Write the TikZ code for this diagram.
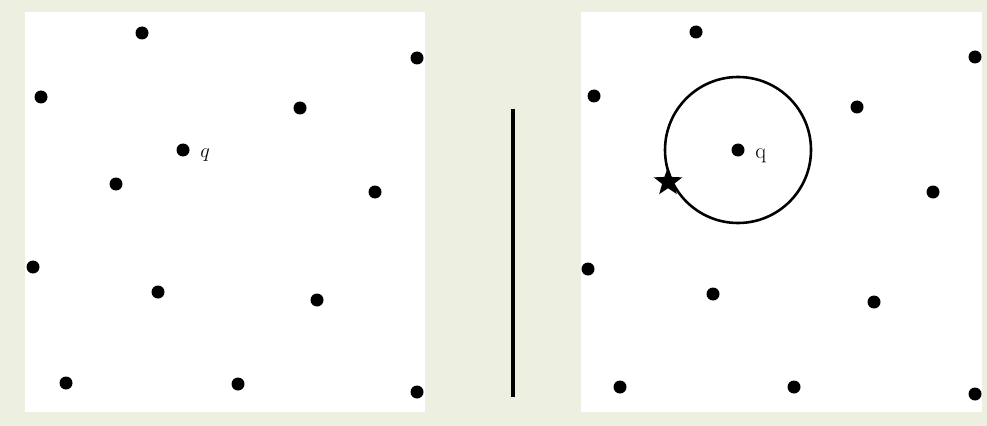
\documentclass[tikz,border=0pt]{standalone}
\usepackage{tikz}
\usetikzlibrary{shapes.geometric}
\definecolor{paper}{RGB}{237,240,225}
\tikzset{
  dot/.style={circle,fill=black,inner sep=0pt,minimum size=13*0.03cm},
  panel/.style={fill=white,draw=none},
  lbl/.style={font=\fontsize{19}{22}\selectfont,inner sep=0pt}
}
\begin{document}
\begin{tikzpicture}[x=0.03cm,y=-0.03cm,line width=2.2pt]
				\fill[paper] (0,0) rectangle (987,426);
				\useasboundingbox (0,0) rectangle (987,426);
				% left and right squares
				\fill[panel] (25,12) rectangle (425,412);
				\fill[panel] (581,12) rectangle (982,412);
				% left points
				\node[dot] (l1) at (142,33) {};
				\node[dot] (l2) at (417,58) {};
				\node[dot] (l3) at (41,97) {};
				\node[dot] (l4) at (300,108) {};
				\node[dot] (lq) at (183,150) {};
				\node[dot] (l5) at (116,184) {};
				\node[dot] (l6) at (375,192) {};
				\node[dot] (l7) at (33,267) {};
				\node[dot] (l8) at (158,292) {};
				\node[dot] (l9) at (317,300) {};
				\node[dot] (l10) at (66,383) {};
				\node[dot] (l11) at (238,384) {};
				\node[dot] (l12) at (417,392) {};
				\node[lbl,anchor=west] (lqlabel) at (199,155) {$q$};
				% separator
				\coordinate (top) at (513,109);
				\coordinate (bot) at (513,397);
				\draw[line width=3.2pt] (top) -- (bot);
				% right points
				\node[dot] (r1) at (696,32) {};
				\node[dot] (r2) at (975,57) {};
				\node[dot] (r3) at (594,96) {};
				\node[dot] (r4) at (857,107) {};
				\node[dot] (rq) at (738,150) {};
				\node[dot] (r5) at (933,192) {};
				\node[dot] (r6) at (588,269) {};
				\node[dot] (r7) at (713,294) {};
				\node[dot] (r8) at (874,302) {};
				\node[dot] (r9) at (620,387) {};
				\node[dot] (r10) at (794,387) {};
				\node[dot] (r11) at (975,394) {};
				\node[lbl,anchor=west] (rqlabel) at (754,156) {q};
				\draw (rq) circle (73);
				\node[star,star points=5,star point ratio=2.4,fill=black,inner sep=0pt,minimum size=30*0.03cm] (st) at (668,182) {};
		\end{tikzpicture}
\end{document}
